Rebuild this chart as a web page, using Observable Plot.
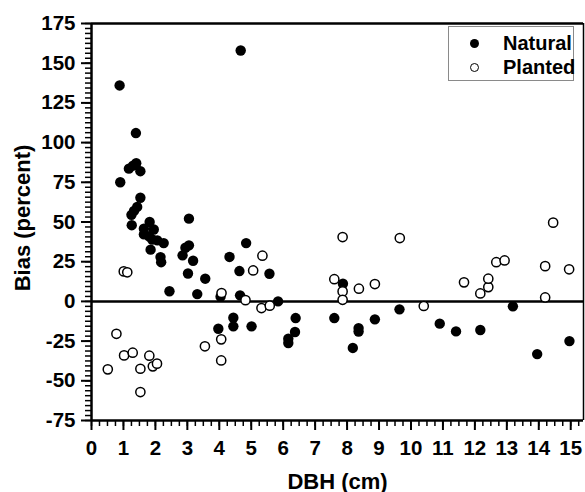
<!DOCTYPE html>
<html>
<head>
<meta charset="utf-8">
<script src="https://cdn.jsdelivr.net/npm/d3@7"></script>
<script src="https://cdn.jsdelivr.net/npm/@observablehq/plot@0.6"></script>
<style>
  html, body { margin: 0; padding: 0; background: white; }
  #wrap { position: relative; width: 585px; height: 492px; font-family: "Liberation Sans", Arial, sans-serif; font-weight: bold; }
  #legend { position: absolute; left: 448px; top: 26px; width: 126px; height: 55px; border: 1px solid #8a8a8a; box-sizing: border-box; background: white; }
  .row { position: absolute; left: 0; font-size: 20px; line-height: 20px; }
  .sym { position: absolute; width: 9px; height: 9px; border-radius: 50%; box-sizing: border-box; }
  .lab { position: absolute; left: 54px; white-space: nowrap; }
</style>
</head>
<body>
<div id="wrap"></div>
<script>
// Natural stands (filled circles)
const naturalDBH  = [0.88, 0.90, 1.17, 1.30, 1.40, 1.39, 1.53, 1.53, 1.25, 1.33, 1.43, 1.26, 1.82, 1.64, 1.95, 1.64, 1.80, 1.90, 2.06, 2.26, 1.85, 2.16, 2.18, 2.44, 3.05, 3.05, 2.94, 2.85, 3.18, 3.02, 3.56, 3.31, 4.32, 4.84, 4.63, 4.65, 4.04, 5.57, 5.84, 4.67, 4.44, 4.44, 3.97, 5.01, 6.39, 6.37, 6.16, 6.16, 7.60, 8.18, 8.36, 8.36, 7.87, 8.87, 9.64, 10.90, 11.41, 12.17, 13.19, 13.95, 14.96];
const naturalBias = [136, 75, 83.6, 85.5, 87, 106, 82, 65.3, 54.5, 57, 59.5, 48, 50, 45.8, 45.3, 42.2, 41, 39, 38.4, 36.7, 32.6, 27.9, 24.7, 6.4, 52.1, 35.3, 33.8, 29, 25.6, 17.6, 14.3, 4.6, 28, 36.7, 19.1, 3.8, 3, 17.4, 0, 158, -10.3, -15.7, -17.2, -15.7, -10.5, -19.3, -23.5, -26.2, -10.5, -29.3, -16.8, -19, 11.1, -11.3, -5, -14, -18.9, -18, -3.1, -33.2, -25];

// Planted stands (open circles)
const plantedDBH  = [0.51, 0.78, 1.02, 1.29, 1.53, 1.53, 1.81, 1.92, 2.05, 1.01, 1.12, 3.55, 4.06, 4.06, 4.07, 4.82, 5.06, 5.35, 5.32, 5.58, 7.60, 7.86, 7.86, 7.86, 8.37, 8.87, 9.65, 10.40, 11.66, 12.17, 12.42, 12.42, 12.67, 12.93, 14.20, 14.20, 14.45, 14.95];
const plantedBias = [-42.8, -20.4, -34, -32.3, -42.4, -57.1, -34.2, -40.9, -39.2, 18.9, 18.3, -28.3, -23.9, -37.2, 5.3, 0.8, 19.5, 28.8, -4.2, -2.7, 14, 40.5, 6.3, 1, 8, 10.9, 39.9, -2.9, 12, 5, 9, 14.3, 24.7, 25.8, 22.2, 2.5, 49.6, 20.2];

const xTicks = [0,1,2,3,4,5,6,7,8,9,10,11,12,13,14,15];
const yTicks = [-75,-50,-25,0,25,50,75,100,125,150,175];
const xTitle = "DBH (cm)";
const yTitle = "Bias (percent)";
const seriesNames = ["Natural", "Planted"];

const natural = naturalDBH.map((d, i) => ({dbh: d, bias: naturalBias[i]}));
const planted = plantedDBH.map((d, i) => ({dbh: d, bias: plantedBias[i]}));
const xMinor = d3.range(0, 15.4 + 1e-9, 0.25);
const yMinor = d3.range(-75, 175 + 1e-9, 3.125);

const chart = Plot.plot({
  width: 585,
  height: 492,
  marginLeft: 91,
  marginRight: 2,
  marginTop: 23,
  marginBottom: 72,
  x: {domain: [0, 15.4]},
  y: {domain: [-75, 175]},
  style: {fontFamily: '"Liberation Sans", Arial, sans-serif', fontWeight: "bold", fontSize: "20px", color: "black", background: "white", overflow: "visible"},
  marks: [
    Plot.axisX({ticks: xMinor, tickSize: 6, strokeWidth: 1.5, tickFormat: () => "", label: null}),
    Plot.axisX({ticks: xTicks, tickSize: 10, strokeWidth: 2, tickFormat: () => "", label: null}),
    Plot.axisY({ticks: yMinor, tickSize: 6, strokeWidth: 1.5, tickFormat: () => "", label: null}),
    Plot.axisY({ticks: yTicks, tickSize: 10, strokeWidth: 2, tickFormat: () => "", label: null}),
    Plot.text(xTicks, {x: d => d, frameAnchor: "bottom", textAnchor: "middle", lineAnchor: "middle", dy: 28, fontSize: 20.5, fontWeight: "bold", text: d => String(d)}),
    Plot.text(yTicks, {y: d => d, frameAnchor: "left", textAnchor: "end", lineAnchor: "middle", dx: -16, fontSize: 20.5, fontWeight: "bold", text: d => String(d)}),
    Plot.ruleY([0], {strokeWidth: 2.5}),
    Plot.ruleX([0], {strokeWidth: 2.5}),
    Plot.ruleY([-75], {strokeWidth: 2.5}),
    Plot.ruleY([175], {strokeWidth: 2.5}),
    Plot.ruleX([15.4], {strokeWidth: 1.5}),
    Plot.dot(natural, {x: "dbh", y: "bias", r: 5.2, fill: "black", stroke: "none"}),
    Plot.dot(planted, {x: "dbh", y: "bias", r: 4.6, fill: "white", stroke: "black", strokeWidth: 1.5}),
    Plot.text([xTitle], {frameAnchor: "bottom", textAnchor: "middle", lineAnchor: "middle", dy: 61, fontSize: 22, fontWeight: "bold"}),
    Plot.text([yTitle], {frameAnchor: "left", textAnchor: "middle", lineAnchor: "middle", dx: -69, dy: -4, rotate: -90, fontSize: 22, fontWeight: "bold"})
  ]
});

const wrap = document.getElementById("wrap");
wrap.appendChild(chart);

const legend = document.createElement("div");
legend.id = "legend";
const fills = ["black", "white"];
seriesNames.forEach((name, i) => {
  const top = 6 + i * 24;
  const sym = document.createElement("div");
  sym.className = "sym";
  sym.style.left = "21px";
  sym.style.top = (top + 6) + "px";
  sym.style.background = fills[i];
  sym.style.border = i === 0 ? "none" : "1.4px solid black";
  legend.appendChild(sym);
  const lab = document.createElement("div");
  lab.className = "row lab";
  lab.style.top = top + "px";
  lab.textContent = name;
  legend.appendChild(lab);
});
wrap.appendChild(legend);
</script>
</body>
</html>
